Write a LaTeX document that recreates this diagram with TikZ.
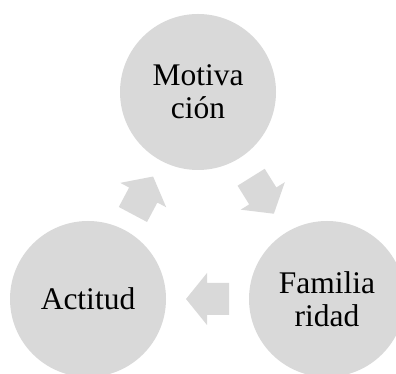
\documentclass[tikz,border=0pt]{standalone}
\usepackage{fontspec}
\setmainfont{Liberation Serif}
\usetikzlibrary{calc}
\definecolor{cyclegray}{HTML}{D9D9D9}
\tikzset{
  x=1pt, y=1pt,
  stage/.style={circle, fill=cyclegray, draw=none, minimum size=156pt, inner sep=0pt,
    align=center, font=\fontsize{31.5}{33}\selectfont, text=black},
  blockarrow/.pic={
    \fill[cyclegray] (-21.5,-16) -- (0.5,-16) -- (0.5,-26) -- (21.5,0)
      -- (0.5,26) -- (0.5,16) -- (-21.5,16) -- cycle;
  }
}
\begin{document}
\begin{tikzpicture}
  \useasboundingbox (0,0) rectangle (396,374);
  \clip (0,0) rectangle (396,374);
  % the three stages of the cycle
  \node[stage] (mot) at (198,282) {Motiva\\ción};
  \node[stage] (fam) at (327,75) {Familia\\ridad};
  \node[stage] (act) at (88,75) {Actitud};
  % block arrows halfway between consecutive stages
  \path (act) -- (mot) pic[pos=0.5, sloped, allow upside down] {blockarrow};
  \path (mot) -- (fam) pic[pos=0.5, sloped, allow upside down] {blockarrow};
  \path (fam) -- (act) pic[pos=0.5, sloped, allow upside down] {blockarrow};
\end{tikzpicture}
\end{document}
